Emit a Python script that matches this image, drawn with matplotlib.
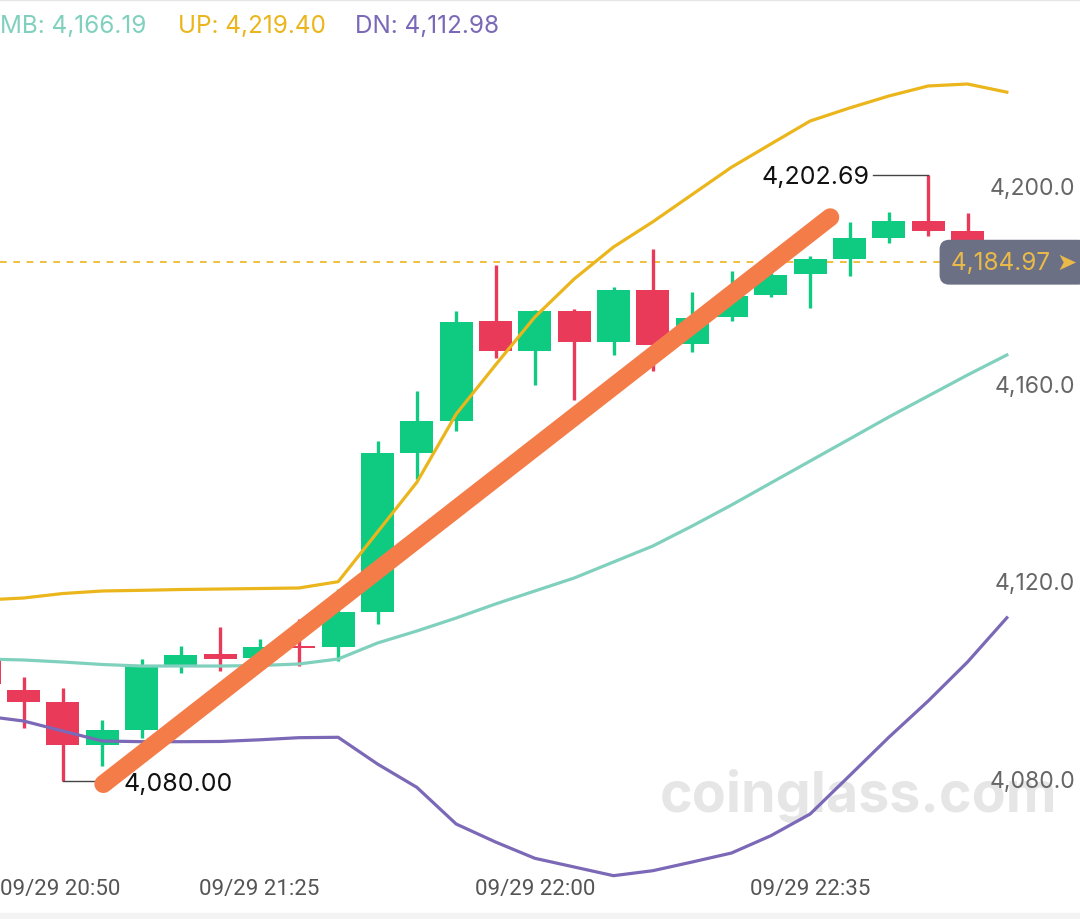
import numpy as np
import matplotlib
matplotlib.use("Agg")
import matplotlib.pyplot as plt
from matplotlib.transforms import blended_transform_factory

# 5 minute candles, index -1 = 09/29 20:50
idx = np.arange(-1, 26)
opens = [4104.6, 4098.42, 4095.86, 4087.28, 4090.25, 4103.42, 4105.58, 4104.77, 4107.20,
         4107.00, 4114.09, 4146.34, 4152.88, 4173.00, 4167.05, 4175.03, 4168.75, 4179.40,
         4168.41, 4173.81, 4178.39, 4182.58, 4185.62, 4189.87, 4193.25, 4191.35, 4187.20]
highs = [4106.0, 4100.93, 4098.70, 4092.28, 4104.63, 4107.32, 4111.05, 4108.68, 4112.73,
         4118.80, 4148.83, 4158.83, 4175.03, 4184.40, 4175.29, 4175.50, 4179.89, 4187.64,
         4178.88, 4183.25, 4183.39, 4186.29, 4193.05, 4195.19, 4202.69, 4194.93, 4187.90]
lows = [4097.5, 4090.66, 4080.00, 4083.03, 4088.57, 4101.80, 4102.26, 4104.02, 4103.15,
        4104.29, 4111.72, 4141.07, 4150.85, 4165.57, 4160.17, 4157.07, 4166.18, 4162.88,
        4166.85, 4173.13, 4177.98, 4175.70, 4182.24, 4188.80, 4190.21, 4185.80, 4184.50]
closes = [4099.6, 4095.87, 4087.28, 4090.25, 4102.95, 4105.50, 4104.63, 4107.00, 4106.90,
          4114.09, 4146.34, 4152.76, 4172.92, 4167.05, 4175.03, 4168.87, 4179.40, 4168.27,
          4173.61, 4178.19, 4182.38, 4185.62, 4189.81, 4193.37, 4191.35, 4187.20, 4184.97]

# Bollinger bands
band_up = [4116.58, 4116.98, 4117.89, 4118.40, 4118.54, 4118.70, 4118.80, 4118.90, 4119.01,
           4120.28, 4130.34, 4140.41, 4154.23, 4164.16, 4173.87, 4181.57, 4188.05, 4193.15,
           4198.68, 4204.20, 4208.90, 4213.56, 4216.19, 4218.62, 4220.65, 4221.05, 4219.40]
band_mb = [4104.63, 4104.43, 4104.02, 4103.52, 4103.21, 4103.21, 4103.21, 4103.31, 4103.62,
           4104.63, 4107.87, 4110.30, 4112.93, 4115.77, 4118.40, 4121.03, 4124.27, 4127.51,
           4131.56, 4135.81, 4140.27, 4144.72, 4149.17, 4153.63, 4157.88, 4162.13, 4166.19]
band_dn = [4093.09, 4092.08, 4090.05, 4088.03, 4087.89, 4087.89, 4087.93, 4088.27, 4088.70,
           4088.78, 4083.37, 4078.65, 4071.22, 4067.58, 4064.28, 4062.52, 4060.76, 4061.77,
           4063.53, 4065.35, 4068.85, 4073.25, 4081.00, 4088.78, 4096.13, 4104.02, 4112.98]

last_price = 4184.97
price_ticks = [4080, 4120, 4160, 4200]
time_ticks = [-1, 6, 13, 20]
time_labels = ["09/29 20:50", "09/29 21:25", "09/29 22:00", "09/29 22:35"]

# hand drawn trend line (index, price)
trend_x = [2.03, 20.51]
trend_y = [4079.32, 4194.06]

GREEN = "#0ECB81"
RED = "#EA3A5A"
C_UP = "#EBB51C"
C_MB = "#80D0BE"
C_DN = "#7B68B6"

plt.rcParams['font.family'] = ['Inter', 'DejaVu Sans']

fig = plt.figure(figsize=(10.8, 9.2), dpi=100)
ax = fig.add_axes([0, 0, 1, 1])
ax.set_xlim(-0.5975, 26.86)
ax.set_ylim(4051.99, 4238.26)
ax.axis('off')

o = np.array(opens); c = np.array(closes)
h = np.array(highs); l = np.array(lows)
cols = [GREEN if cc >= oo else RED for oo, cc in zip(o, c)]
bottom = np.minimum(o, c)
height = np.maximum(np.abs(c - o), 0.4)
ax.vlines(idx, l, h, colors=cols, linewidth=2.4, zorder=2)
ax.bar(idx, height, bottom=bottom, width=0.84, color=cols, zorder=3)

ax.plot(idx, band_up, color=C_UP, lw=2.3, zorder=4)
ax.plot(idx, band_mb, color=C_MB, lw=2.3, zorder=4)
ax.plot(idx, band_dn, color=C_DN, lw=2.3, zorder=4)

# last price dashed line
ax.axhline(last_price, color=C_UP, lw=1.2, ls=(0, (4, 4)), zorder=1)

# trend line
ax.plot(trend_x, trend_y, color="#F47C48", lw=13, solid_capstyle='round', zorder=6)

# high / low markers
lo_i = int(np.argmin(l)); hi_i = int(np.argmax(h))
ax.plot([idx[lo_i], idx[lo_i] + 0.9], [l[lo_i], l[lo_i]], color="#444444", lw=1, zorder=5)
ax.text(idx[lo_i] + 1.55, l[lo_i] - 0.5, f"{l[lo_i]:,.2f}", fontsize=18, color="#111111",
        ha='left', va='center', zorder=7)
ax.plot([idx[hi_i] - 1.4, idx[hi_i]], [h[hi_i], h[hi_i]], color="#444444", lw=1, zorder=5)
ax.text(idx[hi_i] - 1.5, h[hi_i] - 0.4, f"{h[hi_i]:,.2f}", fontsize=18, color="#111111",
        ha='right', va='center', zorder=7)

tr = blended_transform_factory(ax.transAxes, ax.transData)
for p in price_ticks:
    ax.text(0.9955, p, f"{p:,.1f}", transform=tr, ha='right', va='center',
            fontsize=16.5, color="#666666", zorder=7)

ax.text(0.997, last_price, f"{last_price:,.2f} ➤", transform=tr, ha='right', va='center',
        fontsize=17.5, color="#E9B949", family=['Inter', 'DejaVu Sans'], zorder=9,
        bbox=dict(boxstyle='round,pad=0.45,rounding_size=0.4', fc="#6B7084", ec='none'))

# watermark
ax.text(0.795, 0.135, "coinglass.com", transform=ax.transAxes, ha='center', va='center',
        fontsize=40, fontweight='bold', color="#E6E6E6", zorder=0)

# time axis
for k, lab in zip(time_ticks, time_labels):
    if k == time_ticks[0]:
        ax.text(0.0, 0.033, lab, transform=blended_transform_factory(ax.transAxes, ax.transAxes),
                ha='left', va='center', fontsize=16, color="#555555", family='Roboto')
    else:
        ax.text(k, 0.033, lab, transform=blended_transform_factory(ax.transData, ax.transAxes),
                ha='center', va='center', fontsize=16, color="#555555", family='Roboto')

# legend row
fig.text(0.0, 0.971, "MB: 4,166.19", color=C_MB, fontsize=17.5, ha='left', va='center')
fig.text(0.165, 0.971, "UP: 4,219.40", color=C_UP, fontsize=17.5, ha='left', va='center')
fig.text(0.329, 0.971, "DN: 4,112.98", color=C_DN, fontsize=17.5, ha='left', va='center')

# thin strips at the top and bottom edges of the screenshot
fig.add_artist(plt.Rectangle((0, 0), 1, 0.007, transform=fig.transFigure, color="#F3F3F3", zorder=0))
fig.add_artist(plt.Line2D([0, 1], [0.999, 0.999], transform=fig.transFigure, color="#E6E6E6", lw=1))

fig.savefig("out.png", dpi=100, facecolor='white')
